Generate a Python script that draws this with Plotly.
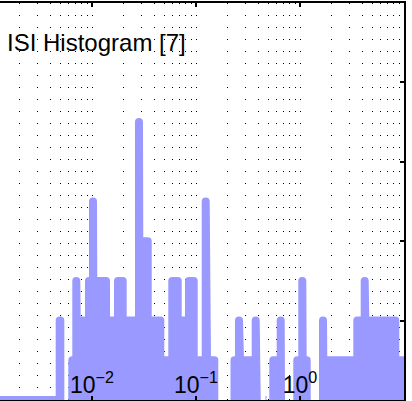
import plotly.graph_objects as go

# ISI histogram bins (seconds) and counts
bin_lo = [0.001, 0.00489,
          0.006466, 0.007065, 0.007128, 0.009358, 0.010224, 0.010292, 0.013635,
          0.017784, 0.019734, 0.0283, 0.02849, 0.034327, 0.045372, 0.059176,
          0.066702, 0.085633, 0.095036, 0.12398, 0.1276,
          0.23454, 0.25916, 0.26496, 0.37508,
          0.46597,
          0.55374, 0.65236,
          0.942, 1.0523, 1.0617,
          1.6643, 1.6754, 3.5562, 4.1891, 4.2452, 8.2483]
bin_hi = [0.00489, 0.00496,
          0.007065, 0.007128, 0.009358, 0.010224, 0.010292, 0.013635, 0.017784,
          0.019734, 0.0283, 0.02849, 0.034327, 0.045372, 0.059176, 0.066702,
          0.085633, 0.095036, 0.12398, 0.1276, 0.14997,
          0.25916, 0.26496, 0.37508, 0.38348,
          0.47641,
          0.65236, 0.6567,
          1.0523, 1.0617, 1.16,
          1.6754, 3.5562, 4.1891, 4.2452, 8.2483, 12.0]
counts = [0, 2,
          1, 3, 2, 3, 5, 3, 2,
          3, 2, 7, 4, 2, 1, 3,
          2, 3, 1, 5, 1,
          1, 2, 1, 2,
          0,
          1, 2,
          1, 3, 1,
          2, 1, 2, 3, 2, 1]

x_tickvals = [0.01, 0.1, 1]
x_ticktext = ["10<sup>\u22122</sup>", "10<sup>\u22121</sup>", "10<sup>0</sup>"]
title_text = "ISI Histogram [7]"
bar_color = "#9999ff"

# build closed outlines for each contiguous run of bins
xs, ys = [], []
i = 0
n = len(bin_lo)
while i < n:
    xs.append(bin_lo[i]); ys.append(0)
    j = i
    while True:
        xs += [bin_lo[j], bin_hi[j]]
        ys += [counts[j], counts[j]]
        if j + 1 < n and abs(bin_lo[j + 1] - bin_hi[j]) < 1e-12:
            j += 1
        else:
            break
    xs.append(bin_hi[j]); ys.append(0)
    xs.append(None); ys.append(None)
    i = j + 1

fig = go.Figure()
fig.add_trace(go.Scatter(
    x=xs, y=ys, mode="lines", fill="toself",
    fillcolor=bar_color, line=dict(color=bar_color, width=8),
    hoverinfo="skip", showlegend=False,
))

font_family = "Liberation Sans, Arial, sans-serif"
grid_dash = "1px,11px"

fig.update_layout(
    width=412, height=401,
    margin=dict(l=0, r=8, t=3, b=1),
    paper_bgcolor="white", plot_bgcolor="white",
    showlegend=False,
    font=dict(family=font_family, color="black"),
    xaxis=dict(
        type="log", range=[-2.8846, 1.0],
        showline=True, linecolor="black", linewidth=2, mirror="ticks",
        ticks="inside", ticklen=4, tickwidth=1.5, tickcolor="black",
        tickvals=x_tickvals, ticktext=x_ticktext,
        tickfont=dict(size=23, family=font_family, color="black"),
        ticklabelposition="inside",
        showgrid=True, gridcolor="black", gridwidth=1, griddash=grid_dash,
        minor=dict(dtick="D1", showgrid=True, gridcolor="black",
                   gridwidth=1, griddash=grid_dash, ticks=""),
        zeroline=False,
    ),
    yaxis=dict(
        range=[0, 10], side="right",
        showline=True, linecolor="black", linewidth=2,
        ticks="inside", ticklen=4, tickwidth=2, tickcolor="black",
        dtick=2, showticklabels=False, showgrid=False, zeroline=False,
    ),
    annotations=[dict(
        text=title_text, xref="paper", yref="paper",
        x=0, xanchor="left", xshift=5,
        y=0.9005, yanchor="middle",
        showarrow=False,
        font=dict(size=24, family=font_family, color="black"),
    )],
)

post = (
    "document.body.style.margin='0';document.body.style.padding='0';"
    "document.querySelectorAll('.scatterlayer path').forEach(function(p){"
    "p.style.strokeLinejoin='round';});"
)

fig.write_html("out.html", config={"displayModeBar": False}, post_script=post)
